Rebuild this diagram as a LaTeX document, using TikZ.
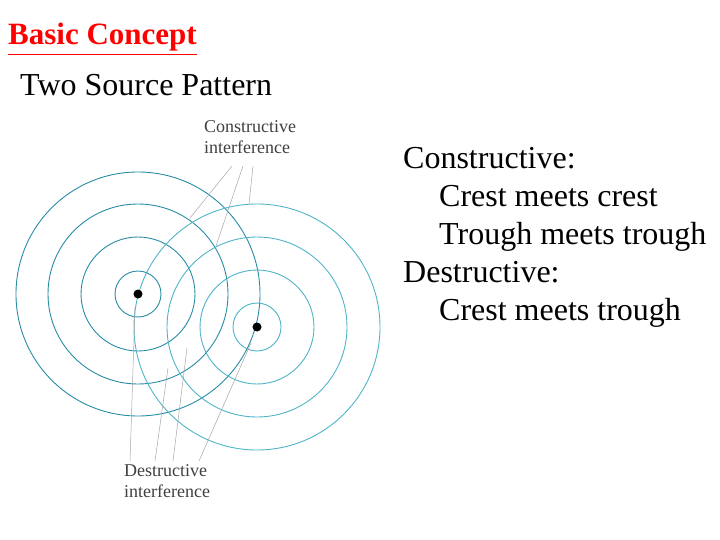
\documentclass[tikz,border=0pt]{standalone}
\usepackage{fontspec}
\setmainfont{Liberation Serif}
\begin{document}
\begin{tikzpicture}[x=1pt,y=-1pt,
 lc/.style={draw={rgb,255:red,40;green,140;blue,165},line width=0.9pt},
 rc/.style={draw={rgb,255:red,80;green,180;blue,200},line width=0.9pt},
 gl/.style={draw=gray!70,line width=0.5pt},
 lab/.style={font=\fontsize{18}{21}\selectfont,text=black!75,align=left,inner sep=0pt,anchor=north west},
 big/.style={font=\fontsize{32}{38}\selectfont,inner sep=0pt,anchor=west}]
\useasboundingbox (0,0) rectangle (720,540);
\coordinate (s1) at (138,294);
\coordinate (s2) at (257,327);
\foreach \r in {23,57,90,122}{\draw[lc] (s1) circle (\r);}
\foreach \r in {24,57,90,123}{\draw[rc] (s2) circle (\r);}
\fill (s1) circle (4.5);
\fill (s2) circle (4.5);
\node[lab] (ci) at (204,120) {Constructive\\interference};
\node[lab] (di) at (124,464) {Destructive\\interference};
\coordinate (c1) at (232,166); \coordinate (c2) at (243,166); \coordinate (c3) at (253,166);
\draw[gl] (c1) -- (190,218);
\draw[gl] (c2) -- (216,246);
\draw[gl] (c3) -- (249,204);
\coordinate (d1) at (130,461); \coordinate (d2) at (155,461); \coordinate (d3) at (173,461); \coordinate (d4) at (199,461);
\draw[gl] (d1) -- (135,308);
\draw[gl] (d2) -- (168,368);
\draw[gl] (d3) -- (187,348);
\draw[gl] (d4) -- (251,343);
\node[font=\fontsize{31}{34}\selectfont\bfseries,text=red,inner sep=0pt,anchor=west] (t) at (8,37) {Basic Concept};
\draw[red,line width=1.5pt] (t.south west)++(0,3) -- ([yshift=-3pt]t.south east);
\node[big] (sub) at (20,85) {Two Source Pattern};
\node[big,align=left,anchor=north west] (r) at (403,147) {Constructive:\\\hspace{36pt}Crest meets crest\\\hspace{36pt}Trough meets trough\\Destructive:\\\hspace{36pt}Crest meets trough};
\end{tikzpicture}
\end{document}
